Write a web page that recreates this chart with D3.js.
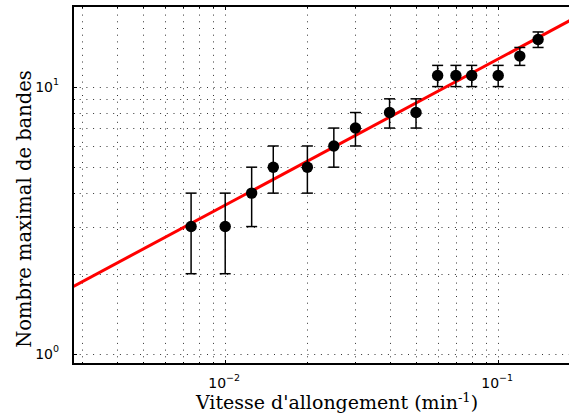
<!DOCTYPE html>
<html><head><meta charset="utf-8">
<script src="https://cdn.jsdelivr.net/npm/d3@7"></script>
<style>body{margin:0;background:#fff;} svg{display:block;}</style>
</head><body>
<script>
// Data
const rates   = [0.0075, 0.01, 0.0125, 0.015, 0.02, 0.025, 0.03, 0.04, 0.05, 0.06, 0.07, 0.08, 0.1, 0.12, 0.14];
const bands   = [3, 3, 4, 5, 5, 6, 7, 8, 8, 11, 11, 11, 11, 13, 15];
const errors  = [1, 1, 1, 1, 1, 1, 1, 1, 1, 1, 1, 1, 1, 1, 1];
const fitA = 44.6, fitB = 0.546;   // power-law fit  y = A * x^B
const xDomain = [0.00277, 0.238];
const yDomain = [0.92, 20];
const xMajor = [0.01, 0.1], xMajorExp = ["\u22122", "\u22121"];
const yMajor = [1, 10], yMajorExp = ["0", "1"];

const W = 569, H = 419;
const L = 73, R = 601, T = 6, B = 364;
const svg = d3.select("body").append("svg").attr("width", W).attr("height", H);

const x = d3.scaleLog().domain(xDomain).range([L, R]);
const y = d3.scaleLog().domain(yDomain).range([B, T]);

// grid ticks (major + minor)
function logTicks(dom){
  const out=[];
  for(let e=-4;e<=3;e++) for(let m=1;m<=9;m++){const v=m*Math.pow(10,e); if(v>=dom[0]*0.999&&v<=dom[1]*1.001) out.push(v);}
  return out;
}
const xt = logTicks(xDomain), yt = logTicks(yDomain);
const isMajor = v => Math.abs(Math.log10(v)-Math.round(Math.log10(v)))<1e-6;

svg.append("clipPath").attr("id","clip").append("rect").attr("x",L).attr("y",T).attr("width",R-L).attr("height",B-T);

const grid = svg.append("g").attr("stroke","#333").attr("stroke-width",1).attr("stroke-dasharray","1,5.7");
grid.selectAll("line.gx").data(xt).join("line").attr("class","gx")
  .attr("x1",d=>Math.round(x(d))+0.5).attr("x2",d=>Math.round(x(d))+0.5).attr("y1",B).attr("y2",T);
grid.selectAll("line.gy").data(yt).join("line").attr("class","gy")
  .attr("y1",d=>Math.round(y(d))+0.5).attr("y2",d=>Math.round(y(d))+0.5).attr("x1",L).attr("x2",R);

// ticks inward
const tk = svg.append("g").attr("stroke","#000").attr("stroke-width",1);
xt.forEach(v=>{
  const len = isMajor(v)?4:2, px=Math.round(x(v))+0.5;
  tk.append("line").attr("x1",px).attr("x2",px).attr("y1",B).attr("y2",B-len);
  tk.append("line").attr("x1",px).attr("x2",px).attr("y1",T).attr("y2",T+len);
});
yt.forEach(v=>{
  const len = isMajor(v)?4:2, py=Math.round(y(v))+0.5;
  tk.append("line").attr("x1",L).attr("x2",L+len).attr("y1",py).attr("y2",py);
});

// fit line
const fitPts = xDomain.map(v=>[v, fitA*Math.pow(v,fitB)]);
svg.append("path").attr("clip-path","url(#clip)")
  .attr("d", d3.line().x(d=>x(d[0])).y(d=>y(d[1]))(fitPts))
  .attr("fill","none").attr("stroke","#ff0000").attr("stroke-width",3);

// error bars
const data = rates.map((r,i)=>({x:r,y:bands[i],e:errors[i]}));
const eb = svg.append("g").attr("stroke","#000").attr("stroke-width",1.5);
data.forEach(d=>{
  const px=x(d.x), y1=y(d.y-d.e), y2=y(d.y+d.e);
  eb.append("line").attr("x1",px).attr("x2",px).attr("y1",y1).attr("y2",y2);
  eb.append("line").attr("x1",px-5.5).attr("x2",px+5.5).attr("y1",y1).attr("y2",y1);
  eb.append("line").attr("x1",px-5.5).attr("x2",px+5.5).attr("y1",y2).attr("y2",y2);
});
svg.append("g").selectAll("circle").data(data).join("circle")
  .attr("cx",d=>x(d.x)).attr("cy",d=>y(d.y)).attr("r",5.7).attr("fill","#000");

// spines: left, top, bottom
const sp = svg.append("g").attr("stroke","#000").attr("stroke-width",2).attr("fill","none");
sp.append("line").attr("x1",L).attr("x2",L).attr("y1",T).attr("y2",B+1);
sp.append("line").attr("x1",L-1).attr("x2",R).attr("y1",T).attr("y2",T);
sp.append("line").attr("x1",L-1).attr("x2",R).attr("y1",B).attr("y2",B);

// tick labels
const tf = "'DejaVu Sans', sans-serif";
xMajor.forEach((v,i)=>{
  const t = svg.append("text").attr("x",x(v)-1).attr("y",388).attr("text-anchor","middle")
    .attr("font-family",tf).attr("font-size",14).attr("fill","#000");
  t.append("tspan").text("10");
  t.append("tspan").attr("font-size",9.5).attr("dy",-7).text(xMajorExp[i]);
});
yMajor.forEach((v,i)=>{
  const t = svg.append("text").attr("x",L-14).attr("y",y(v)+5).attr("text-anchor","end")
    .attr("font-family",tf).attr("font-size",14).attr("fill","#000");
  t.append("tspan").text("10");
  t.append("tspan").attr("font-size",9.5).attr("dy",-7).text(yMajorExp[i]);
});

// axis labels
const sf = "'DejaVu Serif', 'Liberation Serif', serif";
const xl = svg.append("text").attr("x",337).attr("y",409).attr("text-anchor","middle")
  .attr("font-family",sf).attr("font-size",19).attr("fill","#000");
xl.append("tspan").text("Vitesse d'allongement (min");
xl.append("tspan").attr("font-size",13).attr("dy",-7).text("-1");
xl.append("tspan").attr("dy",7).text(")");
svg.append("text").attr("transform","translate(31,209) rotate(-90)").attr("text-anchor","middle")
  .attr("font-family",sf).attr("font-size",19.5).attr("fill","#000").text("Nombre maximal de bandes");
</script>
</body></html>
